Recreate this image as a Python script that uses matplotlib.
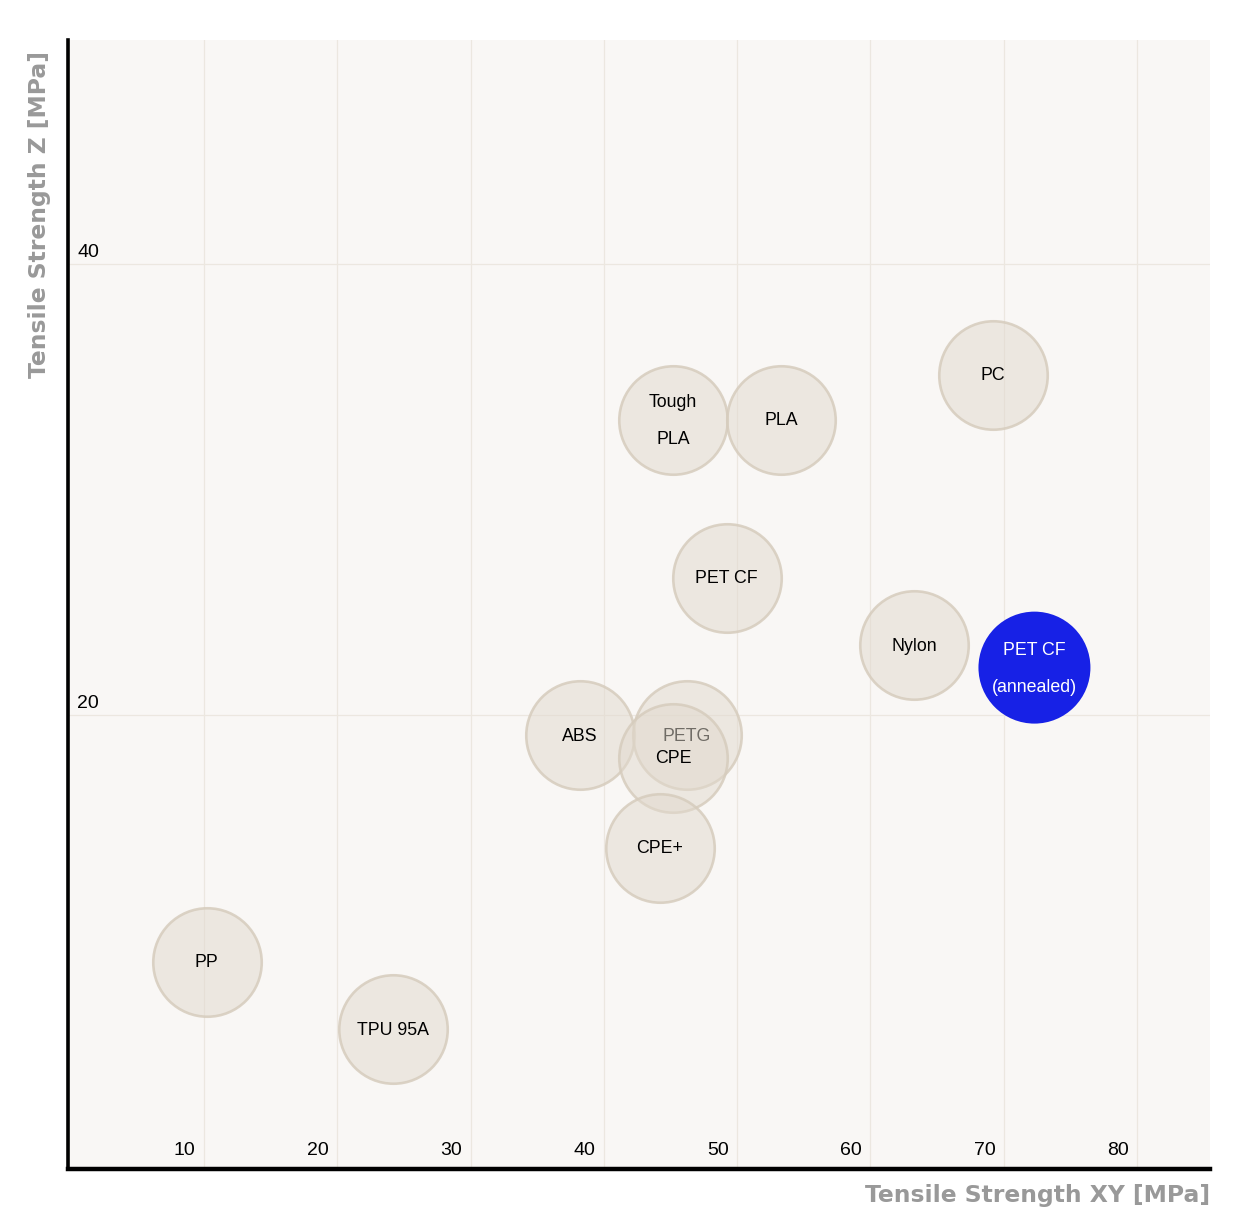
import matplotlib
matplotlib.use("Agg")
import matplotlib.pyplot as plt

# ---- data ----
materials = ["PP", "TPU 95A", "ABS", "PETG", "CPE", "CPE+", "Tough\nPLA", "PLA",
             "PET CF", "PC", "Nylon", "PET CF\n(annealed)"]
strength_xy = [10.2, 24.2, 38.2, 46.2, 45.2, 44.2, 45.2, 53.3, 49.2, 69.2, 63.3, 72.3]
strength_z = [9.05, 6.05, 19.1, 19.1, 18.1, 14.1, 33.1, 33.1, 26.1, 35.1, 23.1, 22.1]
highlight = [False] * 11 + [True]
x_ticks = [10, 20, 30, 40, 50, 60, 70, 80]
y_ticks = [20, 40]

plt.rcParams['font.family'] = ['Liberation Sans', 'DejaVu Sans']

fig = plt.figure(figsize=(12.5, 12.32), dpi=100)
fig.patch.set_facecolor('white')
ax = fig.add_axes([0.054, 0.0511, 0.914, 0.9164])
ax.set_facecolor('#f9f7f5')
ax.set_xlim(-0.24, 85.47)
ax.set_ylim(-0.16, 49.96)

for s in ['top', 'right']:
    ax.spines[s].set_visible(False)
ax.spines['left'].set_linewidth(2.6)
ax.spines['bottom'].set_linewidth(3.2)
ax.spines['left'].set_color('black')
ax.spines['bottom'].set_color('black')
ax.spines['left'].set_zorder(50)
ax.spines['bottom'].set_zorder(50)

ax.set_xticks([])
ax.set_yticks([])

grid_c = '#ece7e0'
for xv in x_ticks:
    ax.axvline(xv, color=grid_c, lw=0.9, zorder=0.5)
    ax.annotate(str(xv), xy=(xv, 0), xycoords=('data', 'axes fraction'),
                xytext=(-6, 10), textcoords='offset points',
                ha='right', va='baseline', fontsize=14, color='black', zorder=60)
for yv in y_ticks:
    ax.axhline(yv, color=grid_c, lw=0.9, zorder=0.5)
    ax.annotate(str(yv), xy=(0, yv), xycoords=('axes fraction', 'data'),
                xytext=(7, 5), textcoords='offset points',
                ha='left', va='baseline', fontsize=14, color='black', zorder=60)

fill = (0.882, 0.851, 0.804, 0.5)
edge = (0.84, 0.80, 0.74, 0.85)
blue = '#1721e6'

for i, (name, xv, yv, hl) in enumerate(zip(materials, strength_xy, strength_z, highlight)):
    z = 2 + 2 * i
    if hl:
        ax.scatter([xv], [yv], s=6500, c=blue, edgecolors='none', zorder=z)
        tc = 'white'
    else:
        ax.scatter([xv], [yv], s=6100, c=[fill], edgecolors=[edge], linewidths=1.9, zorder=z)
        tc = 'black'
    ax.text(xv, yv - 0.05, name, ha='center', va='center', fontsize=12.8, color=tc,
            linespacing=2.55, zorder=z + 1)

ax.text(1.0, -0.0235, "Tensile Strength XY [MPa]", transform=ax.transAxes,
        ha='right', va='center', fontsize=16.9, fontweight='bold', color='#999999',
        family='DejaVu Sans')
fig.text(40 / 1250, 1 - 51 / 1232, "Tensile Strength Z [MPa]", rotation=90,
         ha='center', va='top', fontsize=16.9, fontweight='bold', color='#999999',
         family='DejaVu Sans')

fig.savefig('out.png', dpi=100, facecolor='white')
